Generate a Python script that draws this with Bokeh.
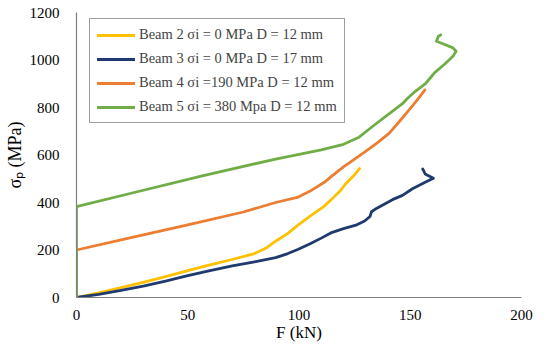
from bokeh.plotting import figure
from bokeh.models import Legend, LegendItem, FixedTicker, LinearAxis
from bokeh.embed import file_html
from bokeh.resources import INLINE

# Beam 2: sigma_i = 0 MPa, D = 12 mm
b2_f = [0, 10, 20, 30, 40, 50, 60, 70, 80, 85, 89.5, 95, 99.7, 105, 111.4, 114.3, 118.7, 120.9, 123.1, 125, 127.2]
b2_s = [0, 20, 42, 64, 88, 113, 137, 160, 185, 207, 237, 270, 306, 343, 385, 410, 451, 478, 499, 517, 543]

# Beam 3: sigma_i = 0 MPa, D = 17 mm
b3_f = [0, 10, 20, 30, 40, 50, 60, 70, 80, 89.5, 95, 99.7, 105, 110, 114.3, 120, 126, 129.5, 131.9, 132.6, 134.8, 142, 146.5, 151, 156.7, 160.4, 158.2, 156.7, 156, 155.6]
b3_s = [0, 13, 30, 48, 69, 92, 113, 133, 150, 168, 185, 203, 226, 250, 272, 290, 306, 322, 341, 361, 375, 412, 430, 458, 485, 502, 513, 520, 534, 541]

# Beam 4: sigma_i = 190 MPa, D = 12 mm
b4_f = [0, 0, 25, 50, 75, 89.5, 99.7, 105, 111.4, 115, 120, 129, 135, 140.6, 145, 149.4, 153, 156.6]
b4_s = [0, 200, 253, 306, 360, 400, 423, 448, 485, 513, 550, 609, 650, 692, 740, 789, 830, 874]

# Beam 5: sigma_i = 380 MPa, D = 12 mm
b5_f = [0, 0, 25, 57, 89.5, 100, 110, 120, 127, 133, 140, 146.5, 148.7, 152, 156.7, 161, 165.4, 169.2, 170.6, 169.2, 165.5, 161.8, 162.6, 163.7]
b5_s = [0, 383, 440, 513, 583, 603, 622, 645, 675, 720, 770, 816, 838, 866, 899, 947, 982, 1016, 1037, 1051, 1065, 1079, 1099, 1106]

labels = ["Beam 2 σi = 0 MPa D = 12 mm",
          "Beam 3 σi = 0 MPa D = 17 mm",
          "Beam 4 σi =190 MPa D = 12 mm",
          "Beam 5 σi = 380 Mpa D = 12 mm"]
colors = ["#FFC000", "#1F3A6E", "#ED7D31", "#70AD47"]

x_ticks = [0, 50, 100, 150, 200]
y_ticks = [0, 200, 400, 600, 800, 1000, 1200]

FONT = "'Liberation Serif'"

p = figure(width=534, height=344, x_range=(0, 200), y_range=(0, 1200),
           x_axis_type=None, y_axis_type=None,
           output_backend="svg", toolbar_location=None,
           min_border_left=76, min_border_right=13, min_border_top=12, min_border_bottom=44)
p.outline_line_color = None

common = dict(major_tick_line_color=None, minor_tick_line_color=None,
              major_label_text_font=FONT, axis_label_text_font=FONT,
              major_label_text_font_size="15px", major_label_text_color="#000000",
              axis_line_color="#808080", axis_line_width=1.2,
              axis_label_text_font_style="normal", axis_label_text_color="#000000")

xaxis = LinearAxis(ticker=FixedTicker(ticks=x_ticks), axis_label="F (kN)",
                   axis_label_text_font_size="17px",
                   major_label_standoff=6, axis_label_standoff=0, **common)
yaxis = LinearAxis(ticker=FixedTicker(ticks=y_ticks), axis_label="σₚ (MPa)",
                   axis_label_text_font_size="18px",
                   major_label_standoff=11, axis_label_standoff=2, **common)
p.add_layout(xaxis, "below")
p.add_layout(yaxis, "left")

p.xgrid.ticker = FixedTicker(ticks=x_ticks)
p.ygrid.ticker = FixedTicker(ticks=y_ticks)
p.xgrid.grid_line_color = "#DCDCDC"
p.ygrid.grid_line_color = "#DCDCDC"

series = [(b2_f, b2_s), (b3_f, b3_s), (b4_f, b4_s), (b5_f, b5_s)]
renderers = []
for (fx, sy), c in zip(series, colors):
    r = p.line(fx, sy, line_color=c, line_width=2.8, line_join="round", line_cap="round")
    renderers.append(r)

items = [LegendItem(label=l, renderers=[r]) for l, r in zip(labels, renderers)]
legend = Legend(items=items, location=(13, 174),
                label_text_font=FONT, label_text_font_size="14.5px",
                glyph_width=38, glyph_height=14, label_height=14,
                label_standoff=4, spacing=7, padding=7, margin=0,
                border_line_color="#404040", border_line_width=1,
                background_fill_color="white", background_fill_alpha=1)
p.add_layout(legend, "center")

open("out.html", "w").write(file_html(p, INLINE))
